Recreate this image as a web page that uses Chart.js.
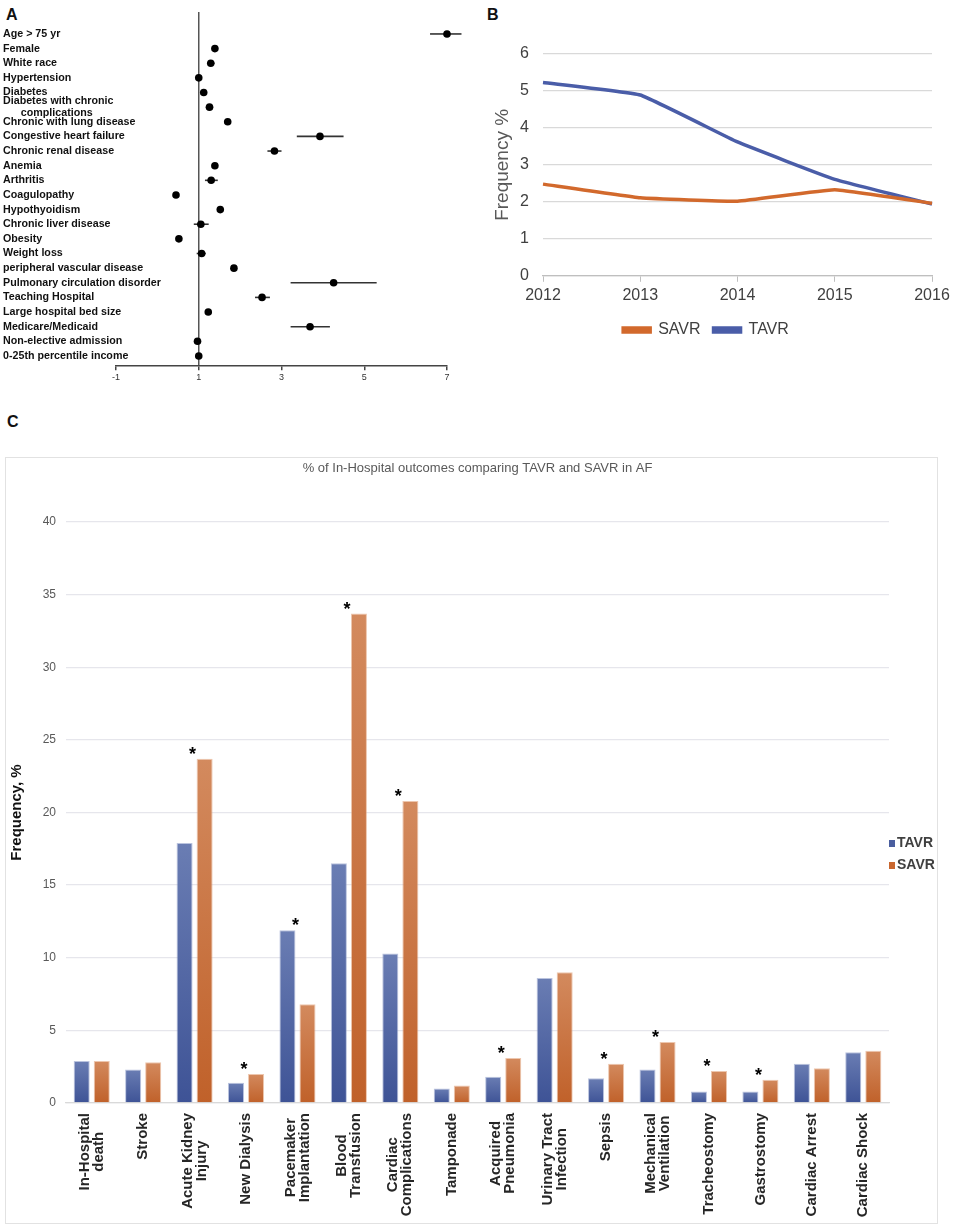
<!DOCTYPE html>
<html>
<head>
<meta charset="utf-8">
<script src="https://cdn.jsdelivr.net/npm/chart.js@4.4.1/dist/chart.umd.min.js"></script>
<style>
  body { margin: 0; background: #fff; width: 957px; height: 1225px; position: relative; overflow: hidden;
         font-family: "Liberation Sans", Arial, sans-serif; }
  .panel { position: absolute; font-weight: bold; font-size: 16px; line-height: 1; color: #111; }
  canvas { position: absolute; }
  #boxC { position: absolute; left: 5px; top: 457px; width: 933px; height: 767px;
          border: 1px solid #e2e2e2; box-sizing: border-box; }
</style>
</head>
<body>
<div class="panel" style="left:6px;top:7px">A</div>
<div class="panel" style="left:487px;top:7px">B</div>
<div class="panel" style="left:7px;top:414px">C</div>

<canvas id="chartA" width="470" height="394" style="left:0;top:0"></canvas>
<canvas id="chartB" width="477" height="348" style="left:480px;top:0"></canvas>
<div id="boxC"><canvas id="chartC" width="931" height="765" style="left:0;top:0"></canvas></div>

<script>
// ---- panel A: forest plot ----
const forestRows = [
  "Age > 75 yr", "Female", "White race", "Hypertension", "Diabetes",
  ["Diabetes with chronic", "      complications"],
  "Chronic with lung disease", "Congestive heart failure", "Chronic renal disease",
  "Anemia", "Arthritis", "Coagulopathy", "Hypothyoidism", "Chronic liver disease",
  "Obesity", "Weight loss", "peripheral vascular disease", "Pulmonary circulation disorder",
  "Teaching Hospital", "Large hospital bed size", "Medicare/Medicaid",
  "Non-elective admission", "0-25th percentile income"
];
const oddsRatio = [7.0, 1.39, 1.29, 1.0, 1.12, 1.26, 1.7, 3.93, 2.83, 1.39, 1.3, 0.45, 1.52,
                   1.05, 0.52, 1.07, 1.85, 4.26, 2.53, 1.23, 3.69, 0.97, 1.0];
const ciLow = [6.59, 1.33, 1.2, 0.97, 1.07, 1.17, 1.63, 3.37, 2.66, 1.34, 1.15, 0.42, 1.45,
               0.88, 0.49, 0.95, 1.78, 3.22, 2.36, 1.19, 3.22, 0.95, 0.97];
const ciHigh = [7.35, 1.45, 1.38, 1.03, 1.17, 1.35, 1.78, 4.5, 3.0, 1.44, 1.46, 0.48, 1.6,
                1.24, 0.55, 1.17, 1.92, 5.3, 2.72, 1.27, 4.17, 0.99, 1.03];
const forestTicks = [-1, 1, 3, 5, 7];

// ---- panel B: trend ----
const years = ["2012", "2013", "2014", "2015", "2016"];
const savrTrend = [2.48, 2.11, 2.02, 2.33, 1.96];
const tavrTrend = [5.23, 4.89, 3.62, 2.61, 1.94];

// ---- panel C: outcomes ----
const outcomes = [
  ["In-Hospital", "death"], ["Stroke"], ["Acute Kidney", "Injury"], ["New Dialysis"],
  ["Pacemaker", "Implantation"], ["Blood", "Transfusion"], ["Cardiac", "Complications"],
  ["Tamponade"], ["Acquired", "Pneumonia"], ["Urinary Tract", "Infection"], ["Sepsis"],
  ["Mechanical", "Ventilation"], ["Tracheostomy"], ["Gastrostomy"], ["Cardiac Arrest"],
  ["Cardiac Shock"]
];
const tavrOutcome = [2.9, 2.3, 17.9, 1.4, 11.9, 16.5, 10.3, 1.0, 1.8, 8.6, 1.7, 2.3, 0.8, 0.8, 2.7, 3.5];
const savrOutcome = [2.9, 2.8, 23.7, 2.0, 6.8, 33.7, 20.8, 1.2, 3.1, 9.0, 2.7, 4.2, 2.2, 1.6, 2.4, 3.6];
const significant = [0, 0, 1, 1, 1, 1, 1, 0, 1, 0, 1, 1, 1, 1, 0, 0];
const outcomeTitle = "% of In-Hospital outcomes comparing TAVR and SAVR in AF";

Chart.defaults.font.family = "'Liberation Sans', Arial, sans-serif";
Chart.defaults.animation = false;
Chart.defaults.plugins.tooltip.enabled = false;

new Chart(document.getElementById("chartA"), {
  type: "scatter",
  data: {
    datasets: [
      {
        data: oddsRatio.map((v, i) => ({ x: v, y: i })),
        pointRadius: 3.8, pointBackgroundColor: "#000", pointBorderWidth: 0, clip: false
      },
      ...forestRows.map((_, i) => ({
        data: [{ x: ciLow[i], y: i }, { x: ciHigh[i], y: i }],
        showLine: true, borderColor: "#333", borderWidth: 1.6, pointRadius: 0, clip: false
      }))
    ]
  },
  options: {
    responsive: false,
    layout: { padding: { left: 3, top: 12, right: 23, bottom: 9 } },
    plugins: { legend: { display: false } },
    scales: {
      x: {
        min: -1, max: 7,
        afterBuildTicks: (ax) => { ax.ticks = forestTicks.map((v) => ({ value: v })); },
        ticks: { font: { size: 9 }, color: "#333", padding: 2 },
        grid: {
          color: (c) => (c.tick && c.tick.value === 1 ? "#555" : "rgba(0,0,0,0)"),
          lineWidth: 1.5, tickColor: "#444", tickLength: 4
        },
        border: { color: "#444", width: 1.5 }
      },
      y: {
        reverse: true, min: -1.5, max: 22.7,
        afterBuildTicks: (ax) => { ax.ticks = forestRows.map((_, i) => ({ value: i })); },
        afterFit: (ax) => { ax.width = 113; },
        ticks: {
          // mirrored with a negative padding so long labels are not clipped to the axis box
          callback: (v) => forestRows[v], autoSkip: false, mirror: true, padding: -113,
          font: { size: 10.7, weight: "bold", lineHeight: 1.05 }, color: "#111"
        },
        grid: { display: false, drawTicks: false },
        border: { display: false }
      }
    }
  }
});

new Chart(document.getElementById("chartB"), {
  type: "line",
  data: {
    labels: years,
    datasets: [
      { label: "SAVR", data: savrTrend, borderColor: "#d2692c", backgroundColor: "#d2692c",
        borderWidth: 3.5, pointRadius: 0, tension: 0.1 },
      { label: "TAVR", data: tavrTrend, borderColor: "#4a5da8", backgroundColor: "#4a5da8",
        borderWidth: 3.5, pointRadius: 0, tension: 0.1 }
    ]
  },
  options: {
    responsive: false,
    layout: { padding: { left: 0, top: 54, right: 25, bottom: 0 } },
    plugins: {
      legend: {
        position: "bottom",
        labels: { boxWidth: 27, boxHeight: 4, font: { size: 16 }, color: "#404040", padding: 13 }
      }
    },
    scales: {
      x: {
        offset: false,
        ticks: { font: { size: 16 }, color: "#404040", padding: 4 },
        grid: { drawOnChartArea: false, tickLength: 6, color: "#bfbfbf" },
        border: { color: "#bfbfbf", width: 1.3 }
      },
      y: {
        min: 0, max: 6,
        ticks: { stepSize: 1, font: { size: 16 }, color: "#404040", padding: 14 },
        afterFit: (ax) => { ax.width = 63; },
        grid: { color: "#d9d9d9", lineWidth: 1.3, drawTicks: false },
        border: { display: false },
        title: { display: true, text: "Frequency %", font: { size: 19 }, color: "#595959",
                 padding: { top: 11, bottom: 0 } }
      }
    }
  }
});

function barFill(top, bottom) {
  return (c) => {
    const ch = c.chart;
    if (!ch.chartArea || c.raw === undefined) return bottom;
    const y = ch.scales.y;
    const g = ch.ctx.createLinearGradient(0, y.getPixelForValue(c.raw), 0, y.getPixelForValue(0));
    g.addColorStop(0, top);
    g.addColorStop(1, bottom);
    return g;
  };
}

const outcomeDecor = {
  id: "outcomeDecor",
  afterDraw(chart) {
    const { ctx, chartArea, scales } = chart;
    const xs = scales.x, ys = scales.y;
    ctx.save();
    // title
    ctx.fillStyle = "#595959";
    ctx.font = "13px 'Liberation Sans Narrow', 'Liberation Sans', Arial, sans-serif";
    ctx.textAlign = "center";
    ctx.textBaseline = "middle";
    ctx.fillText(outcomeTitle, (chartArea.left + chartArea.right) / 2, 10);
    // category labels, rotated
    ctx.fillStyle = "#262626";
    ctx.font = "bold 15px 'Liberation Sans', Arial, sans-serif";
    outcomes.forEach((lines, i) => {
      const x = xs.getPixelForValue(i);
      const w = Math.max(...lines.map((l) => ctx.measureText(l).width));
      ctx.save();
      ctx.translate(x, chartArea.bottom + 10);
      ctx.rotate(-Math.PI / 2);
      lines.forEach((l, k) => {
        ctx.fillText(l, -w / 2, (k - (lines.length - 1) / 2) * 14);
      });
      ctx.restore();
    });
    // significance marks
    ctx.font = "bold 18px 'Liberation Sans', Arial, sans-serif";
    ctx.textBaseline = "alphabetic";
    ctx.fillStyle = "#000";
    significant.forEach((s, i) => {
      if (!s) return;
      const top = ys.getPixelForValue(Math.max(tavrOutcome[i], savrOutcome[i]));
      ctx.fillText("*", xs.getPixelForValue(i) - 2, top + 1);
    });
    // legend
    ctx.textAlign = "left";
    ctx.textBaseline = "middle";
    ctx.font = "bold 14px 'Liberation Sans Narrow', 'Liberation Sans', Arial, sans-serif";
    chart.data.datasets.forEach((ds, i) => {
      const y = chartArea.top + 321 + i * 22;
      ctx.fillStyle = ds.legendColor;
      ctx.fillRect(chartArea.right, y - 3, 6, 7);
      ctx.fillStyle = "#404040";
      ctx.fillText(ds.label, chartArea.right + 8, y);
    });
    ctx.restore();
  }
};

new Chart(document.getElementById("chartC"), {
  type: "bar",
  data: {
    labels: outcomes,
    datasets: [
      { label: "TAVR", data: tavrOutcome, legendColor: "#4a5e9f",
        backgroundColor: barFill("#6a7db3", "#3e5396"),
        borderColor: "rgba(140,155,200,0.6)", borderWidth: 1,
        categoryPercentage: 0.78, barPercentage: 0.8 },
      { label: "SAVR", data: savrOutcome, legendColor: "#c9672f",
        backgroundColor: barFill("#d38a5e", "#c0612a"),
        borderColor: "rgba(225,160,120,0.6)", borderWidth: 1,
        categoryPercentage: 0.78, barPercentage: 0.8 }
    ]
  },
  options: {
    responsive: false,
    layout: { padding: { left: 0, top: 64, right: 48, bottom: 112 } },
    plugins: { legend: { display: false } },
    scales: {
      x: {
        ticks: { display: false },
        grid: { display: false },
        border: { color: "#d9d9d9", width: 1.3 }
      },
      y: {
        min: 0, max: 40,
        ticks: { stepSize: 5, font: { size: 12 }, color: "#595959", padding: 10 },
        afterFit: (ax) => { ax.width = 60; },
        grid: { color: "#e6e6ec", lineWidth: 1.3, drawTicks: false },
        border: { display: false },
        title: { display: true, text: "Frequency, %", font: { size: 15, weight: "bold" },
                 color: "#111", padding: { top: 2, bottom: 0 } }
      }
    }
  },
  plugins: [outcomeDecor]
});
</script>
</body>
</html>
